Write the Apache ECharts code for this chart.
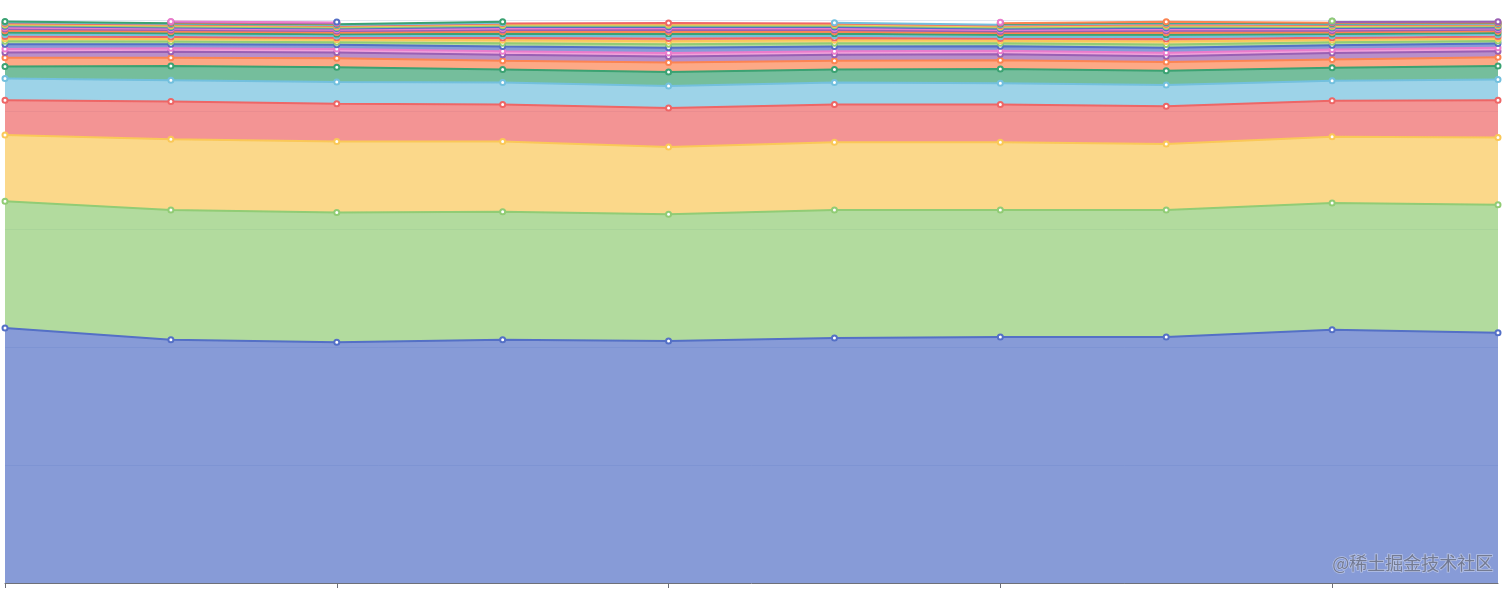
<!DOCTYPE html>
<html>
<head>
<meta charset="utf-8">
<script src="https://cdn.jsdelivr.net/npm/echarts@6/dist/echarts.min.js"></script>
<style>
html,body{margin:0;padding:0;background:#fff;}
#chart{width:1512px;height:593px;}
</style>
</head>
<body>
<div id="chart"></div>
<script>
const categories = ['1','2','3','4','5','6','7','8','9','10'];

const s01 = [43.2, 41.2, 40.8, 41.2, 41.0, 41.5, 41.7, 41.7, 42.9, 42.4];
const s02 = [21.5, 22.0, 22.0, 21.7, 21.5, 21.7, 21.5, 21.5, 21.5, 21.7];
const s03 = [11.2, 12.0, 12.0, 11.9, 11.4, 11.5, 11.5, 11.2, 11.2, 11.4];
const s04 = [5.9, 6.4, 6.4, 6.3, 6.6, 6.4, 6.4, 6.4, 6.1, 6.3];
const s05 = [3.7, 3.6, 3.7, 3.7, 3.7, 3.7, 3.6, 3.6, 3.4, 3.5];
const s06 = [2.0, 2.4, 2.5, 2.2, 2.4, 2.2, 2.4, 2.4, 2.2, 2.3];
const s07 = [1.5, 1.4, 1.5, 1.5, 1.6, 1.5, 1.5, 1.5, 1.4, 1.5];
const s08 = [0.9, 1.0, 1.0, 1.0, 1.0, 1.0, 1.0, 0.95, 1.1, 1.0];
const s09 = [0.6, 0.6, 0.6, 0.6, 0.6, 0.6, 0.6, 0.6, 0.6, 0.6];
const s10 = [0.78, 0.71, 0.70, 0.83, 0.90, 0.83, 0.76, 0.85, 0.74, 0.70];
const s11 = [0.50, 0.46, 0.45, 0.54, 0.58, 0.54, 0.49, 0.55, 0.47, 0.45];
const s12 = [0.44, 0.41, 0.40, 0.48, 0.52, 0.48, 0.43, 0.49, 0.42, 0.40];
const s13 = [0.39, 0.36, 0.35, 0.42, 0.45, 0.42, 0.38, 0.43, 0.37, 0.35];
const s14 = [0.33, 0.31, 0.30, 0.36, 0.39, 0.36, 0.32, 0.37, 0.32, 0.30];
const s15 = [0.33, 0.31, 0.30, 0.36, 0.39, 0.36, 0.32, 0.37, 0.32, 0.30];
const s16 = [0.31, 0.29, 0.28, 0.33, 0.36, 0.33, 0.30, 0.34, 0.29, 0.28];
const s17 = [0.28, 0.26, 0.25, 0.30, 0.32, 0.30, 0.27, 0.31, 0.26, 0.25];
const s18 = [0.24, 0.22, 0.22, 0.26, 0.28, 0.26, 0.24, 0.27, 0.23, 0.22];
const s19 = [0.22, 0.20, 0.20, 0.24, 0.26, 0.24, 0.22, 0.24, 0.21, 0.20];
const s20 = [0.20, 0.18, 0.18, 0.21, 0.23, 0.21, 0.19, 0.22, 0.19, 0.18];
const s21 = [0.18, 0.16, 0.16, 0.19, 0.21, 0.19, 0.17, 0.20, 0.17, 0.16];
const s22 = [0.17, 0.15, 0.15, 0.18, 0.19, 0.18, 0.16, 0.18, 0.16, 0.15];
const s23 = [0.14, 0.13, 0.13, 0.15, null, 0.15, 0.14, 0.16, 0.14, 0.13];
const s24 = [0.13, 0.12, 0.12, 0.14, null, null, 0.13, 0.15, 0.13, 0.12];
const s25 = [null, 0.10, 0.10, null, null, null, 0.11, 0.12, 0.11, 0.10];
const s26 = [null, 0.10, 0.10, null, null, null, 0.11, null, 0.11, 0.10];
const s27 = [null, 0.08, 0.08, null, null, null, 0.09, null, 0.08, null];
const s28 = [null, null, 0.07, null, null, null, null, null, 0.07, null];
const s29 = [null, null, null, null, null, null, null, null, 0.06, null];

const allSeries = [s01,s02,s03,s04,s05,s06,s07,s08,s09,s10,s11,s12,s13,s14,s15,
  s16,s17,s18,s19,s20,s21,s22,s23,s24,s25,s26,s27,s28,s29];

const chart = echarts.init(document.getElementById('chart'), null, {renderer: 'canvas'});
chart.setOption({
  animation: false,
  color: ['#5470c6','#91cc75','#fac858','#ee6666','#73c0de','#3ba272','#fc8452','#9a60b4','#ea7ccc'],
  grid: {left: 5, right: 14, top: 20, bottom: 10, containLabel: false},
  xAxis: {
    type: 'category',
    boundaryGap: false,
    data: categories,
    axisLabel: {show: false},
    axisTick: {interval: 1, length: 5},
    axisLine: {lineStyle: {color: '#6E7079'}}
  },
  yAxis: {
    type: 'value',
    min: 0,
    max: 95.4,
    interval: 20,
    axisLabel: {show: false},
    splitLine: {lineStyle: {color: '#E0E6F1'}}
  },
  series: allSeries.map((d, i) => ({
    name: 'S' + (i + 1),
    type: 'line',
    stack: 'total',
    data: d,
    symbol: 'emptyCircle',
    symbolSize: 5,
    lineStyle: {width: 2},
    areaStyle: {opacity: 0.7}
  })),
  graphic: [{
    type: 'text',
    right: 18,
    bottom: 20,
    z: 100,
    style: {
      text: '@稀土掘金技术社区',
      font: '18px "Noto Sans CJK SC"',
      fill: 'rgba(100,105,125,0.8)',
      stroke: 'rgba(255,255,255,0.4)',
      lineWidth: 1.5
    }
  }]
});
</script>
</body>
</html>
